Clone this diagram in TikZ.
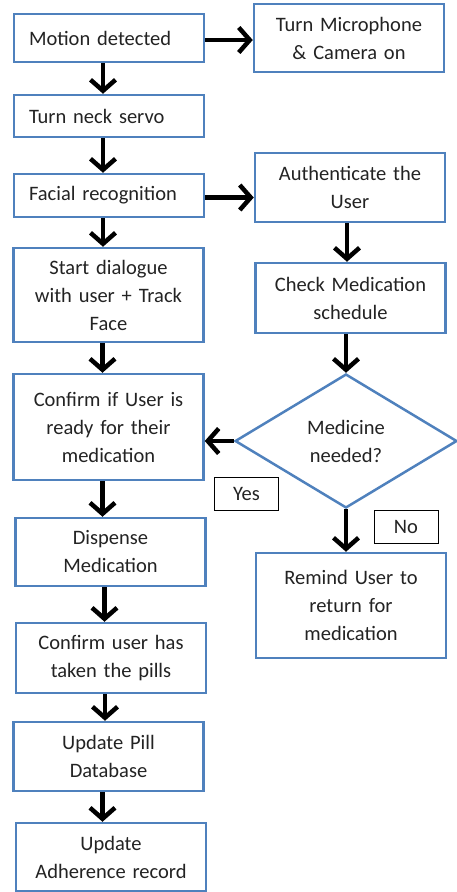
\documentclass[tikz,border=0pt]{standalone}
\usepackage{fontspec}
\setmainfont{Carlito}
\usetikzlibrary{shapes.geometric,arrows.meta}
\definecolor{boxblue}{RGB}{79,129,189}
\definecolor{txtgray}{RGB}{35,35,35}
\tikzset{
  box/.style={draw=boxblue, line width=2.5pt, fill=white, text=txtgray, text width=160pt,
    inner xsep=15pt, inner ysep=0pt, align=center,
    font=\fontsize{20.5}{28}\selectfont},
  decision/.style={diamond, draw=boxblue, line width=2.5pt, fill=white, text=txtgray,
    inner sep=0pt, align=center, font=\fontsize{20.5}{28}\selectfont},
  tag/.style={draw=black, line width=1pt, text=txtgray, inner sep=0pt,
    minimum width=64pt, minimum height=33pt, font=\fontsize{20.5}{24}\selectfont},
  arr/.style={draw=black, line width=4.5pt, -{Straight Barb[length=11pt, width=25pt]}}
}
\begin{document}
\begin{tikzpicture}[x=1pt, y=-1pt]
  \useasboundingbox (0,0) rectangle (457,892);
  % left column
  \node[box, align=left, minimum height=48pt] (motion) at (109,38) {Motion detected};
  \node[box, align=left, minimum height=42pt] (neck) at (109,116) {Turn neck servo};
  \node[box, align=left, minimum height=43pt] (facial) at (109,195.5) {Facial recognition};
  \node[box, minimum height=94pt] (dialogue) at (108.5,295) {Start dialogue\\with user + Track\\Face};
  \node[box, minimum height=106pt] (confirm) at (108.5,427) {Confirm if User is\\ready for their\\medication};
  \node[box, minimum height=68pt] (dispense) at (110.5,552) {Dispense\\Medication};
  \node[box, minimum height=70pt] (pills) at (111,658) {Confirm user has\\taken the pills};
  \node[box, minimum height=69pt] (db) at (108.5,756.5) {Update Pill\\Database};
  \node[box, minimum height=68pt] (adh) at (111,857) {Update\\Adherence record};
  % right column
  \node[box, minimum height=68pt] (mic) at (349,38) {Turn Microphone\\\& Camera on};
  \node[box, minimum height=69pt] (auth) at (350,187.5) {Authenticate the\\User};
  \node[box, minimum height=70pt] (check) at (350.5,298) {Check Medication\\schedule};
  \node[decision, minimum width=222pt, minimum height=134pt] (dec) at (346,441) {Medicine\\needed?};
  \node[box, minimum height=105pt] (remind) at (351,605.5) {Remind User to\\return for\\medication};
  % answers
  \node[tag] (yes) at (246.5,493.5) {Yes};
  \node[tag] (no) at (406,527) {No};
  % arrows
  \foreach \a/\b in {motion/neck, neck/facial, facial/dialogue, dialogue/confirm,
                     confirm/dispense, dispense/pills, pills/db, db/adh}
    \draw[arr] ([xshift=-6pt]\a.south) -- ([xshift=-6pt]\a.south |- \b.north);
  \draw[arr] ([yshift=-2pt]motion.east) -- ([yshift=-2pt]mic.west |- motion.east);
  \draw[arr] ([yshift=-2pt]facial.east) -- ([yshift=-2pt]auth.west |- facial.east);
  \draw[arr] ([xshift=-3pt]auth.south) -- ([xshift=-3pt]auth.south |- check.north);
  \draw[arr] (dec.north |- check.south) -- (dec.north);
  \draw[arr] (dec.west) -- (confirm.east |- dec.west);
  \draw[arr] (dec.south) -- (dec.south |- remind.north);
\end{tikzpicture}
\end{document}
